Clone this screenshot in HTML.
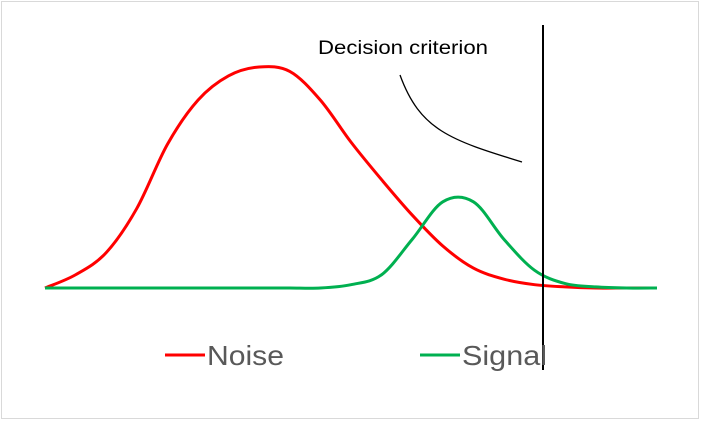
<!DOCTYPE html>
<html><head><meta charset="utf-8"><style>
body{margin:0;background:#fff}
svg{display:block}
text{font-family:"Liberation Sans",Calibri,sans-serif}
</style></head><body>
<svg width="701" height="421">
<rect x="1.5" y="1.5" width="697" height="417" fill="#fff" stroke="#d9d9d9"/>
<g id="series"></g>
<line x1="543" y1="25" x2="543" y2="370" stroke="#000" stroke-width="2"/>
<text x="318" y="54" font-size="19" textLength="170" lengthAdjust="spacingAndGlyphs" fill="#000">Decision criterion</text>
<path d="M400,75 C420,130 450,140 522,162" fill="none" stroke="#000" stroke-width="1.3"/>
<g>
<line x1="165" y1="355" x2="205" y2="355" stroke="#ff0000" stroke-width="3"/>
<text x="207" y="365" font-size="28" textLength="77" lengthAdjust="spacingAndGlyphs" fill="#595959">Noise</text>
<line x1="420" y1="355" x2="460" y2="355" stroke="#00b050" stroke-width="3"/>
<text x="462" y="365" font-size="28" textLength="85" lengthAdjust="spacingAndGlyphs" fill="#595959">Signal</text>
</g>
</svg>
<script>
const categories=[0,1,2,3,4,5,6,7,8,9,10,11,12,13,14,15,16,17,18,19,20];
const noiseValues=[0,0.06,0.16,0.36,0.65,0.85,0.96,1.0,0.98,0.85,0.66,0.49,0.33,0.19,0.09,0.04,0.015,0.005,0,0,0];
const signalValues=[0,0,0,0,0,0,0,0,0,0,0.015,0.06,0.22,0.39,0.39,0.22,0.08,0.02,0.005,0,0];
function xs(c){return 45+(c-categories[0])*(657-45)/(categories[categories.length-1]-categories[0]);}
function ys(v){return 288-v*221;}
function smooth(vals){
  const p=categories.map((c,i)=>[xs(c),ys(vals[i])]);
  let d='M'+p[0][0]+','+p[0][1];
  for(let i=0;i<p.length-1;i++){
    const p0=p[i-1]||p[i],p1=p[i],p2=p[i+1],p3=p[i+2]||p2;
    const c1=[p1[0]+(p2[0]-p0[0])/6,p1[1]+(p2[1]-p0[1])/6];
    const c2=[p2[0]-(p3[0]-p1[0])/6,p2[1]-(p3[1]-p1[1])/6];
    d+=` C${c1[0]},${c1[1]} ${c2[0]},${c2[1]} ${p2[0]},${p2[1]}`;
  }
  return d;
}
const g=document.getElementById('series');
const ns='http://www.w3.org/2000/svg';
const sig=document.createElementNS(ns,'path');
sig.setAttribute('d',smooth(signalValues));
sig.setAttribute('fill','none');sig.setAttribute('stroke','#00b050');sig.setAttribute('stroke-width','3');


const noi=document.createElementNS(ns,'path');
noi.setAttribute('d',smooth(noiseValues));
noi.setAttribute('fill','none');noi.setAttribute('stroke','#ff0000');noi.setAttribute('stroke-width','3');


g.appendChild(noi);g.appendChild(sig);
</script>
</body></html>
